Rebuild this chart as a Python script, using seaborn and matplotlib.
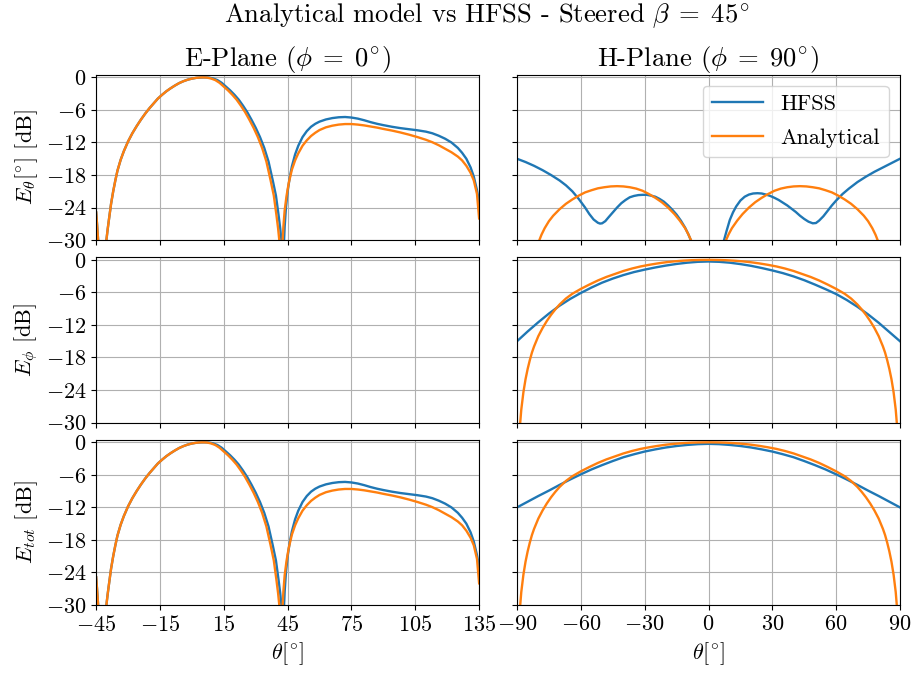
import numpy as np
import pandas as pd
import matplotlib
matplotlib.use("Agg")
import matplotlib.pyplot as plt
import seaborn as sns

# ---------------------------------------------------------------------------
# Radiation pattern cuts (dB), steered beam beta = 45 deg
# ---------------------------------------------------------------------------

# E-plane (phi = 0 deg), E_theta -- also the E_tot cut, since E_phi vanishes here
theta_e_hfss = [-45, -44.6, -44.0, -43.3, -42.0, -40.8, -40.2, -39.6, -39.0, -38.0,
                -37.0, -36.0, -35.0, -33.5, -32.0, -30.0, -28.0, -26.0, -24.0, -22.0,
                -20.0, -18.0, -16.0, -14.0, -12.0, -10.0, -8.0, -6.0, -4.0, -2.0,
                0, 2, 4, 6, 8, 10, 12, 14, 16, 18,
                20, 22, 24, 26, 28, 30, 32, 34, 36, 38,
                39.5, 40.7, 41.5, 42.2, 42.7, 43.2, 43.6, 44.2, 45.0, 46.0,
                47.0, 48.5, 50, 52, 54, 56, 58, 60, 63, 66,
                69, 72, 75, 78, 81, 84, 87, 90, 94, 98,
                102, 106, 110, 113, 116, 119, 122, 125, 127, 129,
                131, 132.5, 134, 135]
e_theta_e_hfss = [-24.9, -27.0, -30.5, -35, -45, -35, -30.0, -28.0, -26.2, -23.3,
                  -21.0, -19.0, -17.2, -15.2, -13.6, -11.8, -10.3, -9.0, -7.8, -6.7,
                  -5.7, -4.8, -3.9, -3.2, -2.55, -2.0, -1.5, -1.05, -0.7, -0.42,
                  -0.22, -0.08, -0.02, 0.0, -0.03, -0.2, -0.5, -1.0, -1.7, -2.4,
                  -3.2, -4.1, -5.2, -6.4, -7.8, -9.3, -11.0, -13.0, -15.5, -19.0,
                  -21.8, -25.3, -27.8, -30.5, -45, -31.0, -27.5, -24.0, -21.0, -18.4,
                  -16.4, -14.2, -12.6, -11.0, -9.9, -9.1, -8.55, -8.15, -7.75, -7.5,
                  -7.35, -7.3, -7.4, -7.6, -7.9, -8.25, -8.55, -8.8, -9.1, -9.35,
                  -9.55, -9.75, -10.0, -10.3, -10.75, -11.3, -12.0, -13.0, -13.9, -15.0,
                  -16.6, -18.3, -20.8, -23.0]

theta_e_ana = [-45, -44.6, -44.0, -43.3, -42.0, -40.8, -40.2, -39.6, -39.0, -38.0,
               -37.0, -36.0, -35.0, -33.5, -32.0, -30.0, -28.0, -26.0, -24.0, -22.0,
               -20.0, -18.0, -16.0, -14.0, -12.0, -10.0, -8.0, -6.0, -4.0, -2.0,
               0, 2, 4, 5, 7, 9, 11, 13, 15, 17,
               19, 21, 23, 25, 27, 29, 31, 33, 35, 37,
               38.5, 39.7, 40.5, 41.2, 41.7, 42.5, 43.0, 43.6, 44.5, 45.5,
               47, 48.5, 50, 52, 54, 56, 58, 60, 63, 66,
               69, 72, 75, 78, 81, 84, 87, 90, 94, 98,
               102, 106, 110, 113, 116, 119, 122, 125, 127, 129,
               131, 132.5, 134, 135]
e_theta_e_ana = [-24.9, -27.0, -30.5, -35, -45, -35, -30.0, -28.0, -26.2, -23.3,
                 -21.0, -19.0, -17.2, -15.2, -13.6, -11.8, -10.3, -9.0, -7.8, -6.7,
                 -5.7, -4.8, -3.9, -3.2, -2.55, -2.0, -1.5, -1.05, -0.7, -0.42,
                 -0.22, -0.08, -0.01, 0.0, -0.03, -0.2, -0.5, -1.0, -1.7, -2.4,
                 -3.2, -4.1, -5.2, -6.4, -7.8, -9.3, -11.0, -13.0, -15.5, -19.0,
                 -21.8, -25.3, -27.8, -30.5, -45, -31.0, -27.5, -24.5, -21.8, -19.5,
                 -17.0, -15.3, -14.0, -12.6, -11.6, -10.8, -10.2, -9.7, -9.2, -8.9,
                 -8.7, -8.6, -8.6, -8.7, -8.85, -9.05, -9.25, -9.5, -9.8, -10.15,
                 -10.55, -11.0, -11.5, -11.95, -12.5, -13.15, -13.8, -14.6, -15.3, -16.3,
                 -17.6, -19.0, -21.5, -26.0]

# H-plane (phi = 90 deg), E_theta (cross-polar)
theta_h_theta_hfss = [-90, -86, -82, -78, -74, -70, -67, -64, -61, -58,
                      -56, -54, -52, -51, -50, -48.5, -47, -45, -43, -41,
                      -39, -37, -35, -33, -31, -29, -27, -25, -23, -21,
                      -19, -17, -15, -13, -11, -9.5, -8, -6.5, 0, 6,
                      7.3, 8.5, 10, 11.5, 13, 15, 17, 19, 21, 23,
                      25, 27, 29, 31, 33, 35, 37, 39, 41, 43,
                      45, 47, 49, 50.5, 52, 54, 56, 58, 60, 63,
                      66, 70, 74, 78, 82, 86, 90]
e_theta_h_hfss = [-15.0, -15.6, -16.3, -17.1, -18.0, -19.0, -19.9, -21.0, -22.4, -24.0,
                  -25.2, -26.2, -26.8, -26.95, -26.9, -26.5, -25.8, -24.9, -24.0, -23.2,
                  -22.6, -22.1, -21.85, -21.7, -21.65, -21.65, -21.8, -22.0, -22.4, -22.9,
                  -23.6, -24.4, -25.3, -26.4, -27.7, -28.9, -30.3, -33.0, -45, -33.0,
                  -30.0, -28.3, -26.3, -24.9, -23.8, -22.7, -22.0, -21.6, -21.4, -21.35,
                  -21.4, -21.6, -21.85, -22.2, -22.6, -23.1, -23.6, -24.2, -24.8, -25.5,
                  -26.1, -26.6, -26.9, -26.85, -26.4, -25.6, -24.6, -23.6, -22.7, -21.5,
                  -20.5, -19.3, -18.3, -17.4, -16.6, -15.8, -15.0]

theta_h_theta_ana = [-82, -80.5, -79.5, -78.5, -77, -75, -73, -70, -67, -64,
                     -61, -58, -55, -52, -49, -46, -43, -40, -37, -34,
                     -31, -28, -25, -22, -19, -16, -13.5, -11, -9.5, -8,
                     -6.5, 0, 6.5, 8, 9.5, 11, 13.5, 16, 19, 22,
                     25, 28, 31, 34, 37, 40, 43, 46, 49, 52,
                     55, 58, 61, 64, 67, 70, 73, 75, 77, 78.5,
                     79.5, 80.5, 82]
e_theta_h_ana = [-36.0, -31.2, -30.0, -29.0, -27.8, -26.5, -25.5, -24.3, -23.3, -22.5,
                 -21.8, -21.2, -20.8, -20.45, -20.25, -20.1, -20.05, -20.1, -20.25, -20.5,
                 -20.9, -21.5, -22.2, -23.0, -24.0, -25.2, -26.4, -27.8, -28.9, -30.2,
                 -32.0, -45, -32.0, -30.2, -28.9, -27.8, -26.4, -25.2, -24.0, -23.0,
                 -22.2, -21.5, -20.9, -20.5, -20.25, -20.1, -20.05, -20.1, -20.25, -20.45,
                 -20.8, -21.2, -21.8, -22.5, -23.3, -24.3, -25.5, -26.5, -27.8, -29.0,
                 -30.0, -31.2, -36.0]

# H-plane (phi = 90 deg), co-polar E_phi and total field
theta_h_hfss = [-90, -85, -80, -75, -70, -65, -60, -55, -50, -45,
                -40, -35, -30, -25, -20, -15, -10, -5, 0, 5,
                10, 15, 20, 25, 30, 35, 40, 45, 50, 55,
                60, 65, 70, 75, 80, 85, 90]
e_phi_h_hfss = [-15.0, -13.2, -11.5, -9.9, -8.45, -7.2, -6.1, -5.1, -4.2, -3.45,
                -2.8, -2.25, -1.8, -1.4, -1.05, -0.75, -0.52, -0.36, -0.3, -0.36,
                -0.52, -0.78, -1.1, -1.5, -1.95, -2.45, -3.05, -3.75, -4.55, -5.4,
                -6.3, -7.4, -8.65, -10.05, -11.6, -13.3, -15.0]
e_tot_h_hfss = [-12.0, -10.95, -9.9, -8.9, -7.85, -6.85, -5.9, -5.0, -4.2, -3.45,
                -2.75, -2.2, -1.7, -1.3, -0.95, -0.68, -0.48, -0.34, -0.28, -0.34,
                -0.48, -0.68, -0.95, -1.3, -1.7, -2.2, -2.75, -3.45, -4.2, -5.0,
                -5.9, -6.85, -7.85, -8.9, -9.9, -10.95, -12.0]

theta_h_ana = [-89.5, -88.5, -88, -87, -86, -85, -84, -83, -82, -80,
               -78, -76, -74, -72, -70, -67, -64, -60, -56, -52,
               -48, -44, -40, -36, -32, -28, -24, -20, -16, -12,
               -8, -4, 0, 4, 8, 12, 16, 20, 24, 28,
               32, 36, 40, 44, 48, 52, 56, 60, 64, 67,
               70, 72, 74, 76, 78, 80, 82, 83, 84, 85,
               86, 87, 88, 88.5, 89.5]
e_phi_h_ana = [-40.0, -30.0, -27.6, -24.4, -22.0, -20.1, -18.5, -17.1, -15.97, -14.07,
               -12.57, -11.27, -10.13, -9.13, -8.23, -7.12, -6.25, -5.35, -4.55, -3.8,
               -3.15, -2.6, -2.05, -1.6, -1.22, -0.92, -0.66, -0.44, -0.27, -0.15,
               -0.06, -0.02, 0.0, -0.02, -0.06, -0.15, -0.27, -0.44, -0.66, -0.92,
               -1.22, -1.6, -2.05, -2.6, -3.15, -3.8, -4.55, -5.35, -6.25, -7.12,
               -8.23, -9.13, -10.13, -11.27, -12.57, -14.07, -15.97, -17.1, -18.5, -20.1,
               -22.0, -24.4, -27.6, -30.0, -40.0]
e_tot_h_ana = e_phi_h_ana

sources = ["HFSS", "Analytical"]
colors = ["#1f77b4", "#ff7f0e"]

e_ticks = [-45, -15, 15, 45, 75, 105, 135]
h_ticks = [-90, -60, -30, 0, 30, 60, 90]
db_ticks = [0, -6, -12, -18, -24, -30]


def pattern_frame(x_hfss, y_hfss, x_ana, y_ana):
    return pd.concat([
        pd.DataFrame({"theta": x_hfss, "dB": y_hfss, "source": sources[0]}),
        pd.DataFrame({"theta": x_ana, "dB": y_ana, "source": sources[1]}),
    ], ignore_index=True)


panels = {
    (0, 0): pattern_frame(theta_e_hfss, e_theta_e_hfss, theta_e_ana, e_theta_e_ana),
    (0, 1): pattern_frame(theta_h_theta_hfss, e_theta_h_hfss, theta_h_theta_ana, e_theta_h_ana),
    (1, 1): pattern_frame(theta_h_hfss, e_phi_h_hfss, theta_h_ana, e_phi_h_ana),
    (2, 0): pattern_frame(theta_e_hfss, e_theta_e_hfss, theta_e_ana, e_theta_e_ana),
    (2, 1): pattern_frame(theta_h_hfss, e_tot_h_hfss, theta_h_ana, e_tot_h_ana),
}

plt.rcParams.update({
    "font.family": "serif",
    "font.serif": ["cmr10"],
    "mathtext.fontset": "cm",
    "axes.formatter.use_mathtext": True,
    "font.size": 16,
    "axes.titlesize": 19.2,
    "figure.titlesize": 19.2,
})

fig, axes = plt.subplots(3, 2, figsize=(9.16, 6.73), dpi=100,
                         sharex="col", sharey=True)
fig.subplots_adjust(left=0.105, right=0.9825, top=0.889, bottom=0.101,
                    wspace=0.099, hspace=0.103)

for (r, c), df in panels.items():
    ax = axes[r, c]
    sns.lineplot(data=df, x="theta", y="dB", hue="source", hue_order=sources,
                 palette=colors, linewidth=1.7, ax=ax, sort=False,
                 legend=(r, c) == (0, 1))

for r in range(3):
    for c in range(2):
        ax = axes[r, c]
        ax.grid(True, color="#b0b0b0", linewidth=0.8)
        ax.set_xlabel("")
        ax.set_ylabel("")
        ax.set_ylim(-30, 0.5)
        ax.set_yticks(db_ticks)

axes[0, 0].set_xlim(-45, 135)
axes[0, 0].set_xticks(e_ticks)
axes[0, 1].set_xlim(-90, 90)
axes[0, 1].set_xticks(h_ticks)

deg = r"^{\!\circ\!}"
axes[0, 0].set_ylabel(r"$E_\theta[" + deg + r"]$ [dB]")
axes[1, 0].set_ylabel(r"$E_\phi$ [dB]")
axes[2, 0].set_ylabel(r"$E_{tot}$ [dB]")
axes[2, 0].set_xlabel(r"$\theta[" + deg + r"]$")
axes[2, 1].set_xlabel(r"$\theta[" + deg + r"]$")

axes[0, 0].set_title(r"E-Plane ($\phi\;=\;0" + deg + r"$)")
axes[0, 1].set_title(r"H-Plane ($\phi\;=\;90" + deg + r"$)")
fig.suptitle(r"Analytical model vs HFSS - Steered $\beta\;=\;45" + deg + r"$",
             x=0.531, y=0.997)

axes[0, 1].legend(loc="upper right", title=None, handlelength=2.3,
                  labelspacing=0.65)

fig.savefig("out.png", dpi=100)
